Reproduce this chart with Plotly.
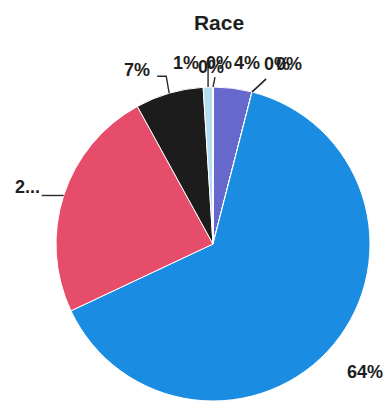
import math
import plotly.graph_objects as go

# Race breakdown, listed clockwise from 12 o'clock
categories = ["Asian", "Native American", "Pacific Islander", "White",
              "Black", "Hispanic", "Two or More", "Other", "Unknown"]
percent = [4, 0, 0, 64, 24, 7, 1, 0, 0]
label_text = ["4%", "0%", "0%", "64%", "2...", "7%", "1%", "0%", "0%"]
colors = ["#6668cc", "#8a8ad0", "#a0a0e0", "#1a8de3",
          "#e54d6b", "#1c1c1c", "#b6dcf2", "#c0c0c0", "#d0d0d0"]

W, H = 384, 410
ML, MR, MT, MB = 56, 14, 87, 9
SIDE = W - ML - MR  # square pie domain in px

fig = go.Figure(go.Pie(
    labels=categories, values=percent, sort=False,
    direction="clockwise", rotation=0,
    marker=dict(colors=colors, line=dict(color="white", width=1)),
    textinfo="none", hoverinfo="label+percent", showlegend=False,
))

# per-label placement: offset from slice edge (px), anchor, leader path (px offsets from edge)
placement = [
    (14, -25, "center", None),
    (25, -28, "center", [(0, 0), (14, -13)]),
    (37, -28, "center", [(0, 0), (14, -13)]),
    (31, 28, "center", None),
    (-22, -8, "right", [(0, 0), (-22, 0)]),
    (-32, -23, "center", [(0, 0), (-3, -17), (-12, -17)]),
    (-22, -24, "center", [(0, 0), (0, -20)]),
    (6, -24, "center", [(0, 0), (2, -10)]),
    (-2, -20, "center", None),
]


def to_paper(px, py):
    return (px - ML) / SIDE, (H - MB - py) / SIDE


cx, cy, R = ML + SIDE / 2, MT + SIDE / 2, SIDE / 2
total = sum(percent)
start = 0.0
annotations, shapes = [], []
font = dict(family="Liberation Sans, Arial, sans-serif", size=18, color="#1e1e1e")
for val, txt, (dx, dy, anchor, leader) in zip(percent, label_text, placement):
    span = 360.0 * val / total
    mid = math.radians(start + span / 2)
    start += span
    ex, ey = cx + R * math.sin(mid), cy - R * math.cos(mid)
    lx, ly = to_paper(ex + dx, ey + dy)
    annotations.append(dict(text=f"<b>{txt}</b>", x=lx, y=ly, xref="paper", yref="paper",
                            xanchor=anchor, yanchor="middle", showarrow=False, font=font))
    if leader:
        pts = [to_paper(ex + ox, ey + oy) for ox, oy in leader]
        path = "M " + " L ".join(f"{px:.4f},{py:.4f}" for px, py in pts)
        shapes.append(dict(type="path", path=path, xref="paper", yref="paper",
                           line=dict(color="#2a2a2a", width=1.4)))

fig.update_layout(
    width=W, height=H,
    margin=dict(l=ML, r=MR, t=MT, b=MB),
    paper_bgcolor="white", plot_bgcolor="white",
    title=dict(text="<b>Race</b>", x=219 / W, xanchor="center",
               y=1 - 23 / H, yanchor="middle", yref="container",
               font=dict(family="Liberation Sans, Arial, sans-serif", size=21, color="#1e1e1e")),
    annotations=annotations, shapes=shapes,
)

fig.write_html("out.html")
